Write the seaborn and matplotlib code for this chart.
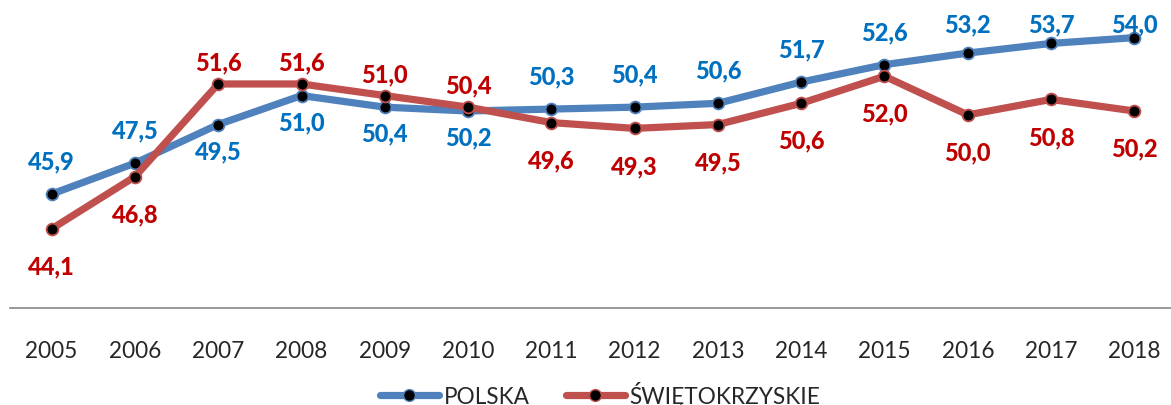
import pandas as pd
import numpy as np
import matplotlib.pyplot as plt
import seaborn as sns
from matplotlib.lines import Line2D
from matplotlib.ticker import FixedLocator
from matplotlib import font_manager
import matplotlib.patheffects as pe

# dane
lata = ['2005', '2006', '2007', '2008', '2009', '2010', '2011',
        '2012', '2013', '2014', '2015', '2016', '2017', '2018']
polska = [45.9, 47.5, 49.5, 51.0, 50.4, 50.2, 50.3, 50.4, 50.6, 51.7, 52.6, 53.2, 53.7, 54.0]
swietokrzyskie = [44.1, 46.8, 51.6, 51.6, 51.0, 50.4, 49.6, 49.3, 49.5, 50.6, 52.0, 50.0, 50.8, 50.2]

# gdzie etykiety: 1 = nad punktem, -1 = pod punktem
pol_strona = [1, 1, -1, -1, -1, -1, 1, 1, 1, 1, 1, 1, 1, 1]
swi_strona = [-1, -1, 1, 1, 1, 1, -1, -1, -1, -1, -1, -1, -1, -1]

sns.set_style('white')
plt.rcParams['font.family'] = ['Lato', 'DejaVu Sans']

# szukamy pliku z pogrubionym Lato
bold_pliki = [f.fname for f in font_manager.fontManager.ttflist
              if f.name == 'Lato' and str(f.weight) in ('bold', '700', '800', '900', 'heavy', 'black')
              and f.style == 'normal']
if bold_pliki:
    font_etyk = dict(fontproperties=font_manager.FontProperties(fname=bold_pliki[0], size=17))
    efekt = []
else:
    font_etyk = dict(fontsize=17, fontweight='bold')
    efekt = None  # ustawiane przy kolorze

NIEB_LINIA, NIEB_TEKST = '#4F81BD', '#0070C0'
CZER_LINIA, CZER_TEKST = '#C0504D', '#C00000'

YMIN, YMAX = 40, 56
AX_H = 309  # wysokosc osi w px

df = pd.DataFrame({'x': np.arange(len(lata)), 'POLSKA': polska, 'ŚWIĘTOKRZYSKIE': swietokrzyskie})

fig = plt.figure(figsize=(11.71, 4.06), dpi=100)
ax = fig.add_axes([10 / 1171, 97 / 406, 1166 / 1171, AX_H / 406])

styl = dict(marker='o', markersize=8.5, markerfacecolor='black', markeredgewidth=1.3,
            linewidth=5.2, legend=False)
sns.lineplot(data=df, x='x', y='POLSKA', color=NIEB_LINIA, markeredgecolor=NIEB_LINIA, ax=ax, **styl)
sns.lineplot(data=df, x='x', y='ŚWIĘTOKRZYSKIE', color=CZER_LINIA, markeredgecolor=CZER_LINIA, ax=ax, **styl)

# etykiety danych
def etykiety(wartosci, strony, kolor, nad, pod):
    pe_lista = efekt if efekt is not None else [pe.withStroke(linewidth=1.1, foreground=kolor)]
    for i, (v, s) in enumerate(zip(wartosci, strony)):
        if s > 0:
            # nie wychodzimy poza gorna krawedz
            do_gory = (YMAX - v) * AX_H / (YMAX - YMIN)
            off = min(nad, do_gory - 25)
        else:
            off = -pod
        ax.annotate(f'{v:.1f}'.replace('.', ','), (i, v), xytext=(0, off * 0.72),
                    textcoords='offset points', ha='center', va='center',
                    color=kolor, path_effects=pe_lista, **font_etyk)

etykiety(polska, pol_strona, NIEB_TEKST, 33, 26)
etykiety(swietokrzyskie, swi_strona, CZER_TEKST, 22, 37)

ax.set_xlim(-0.5, len(lata) - 0.5)
ax.set_ylim(YMIN, YMAX)
ax.set_yticks([])
ax.set_xticks(range(len(lata)))
ax.set_xticklabels(lata, fontsize=16.3)
ax.xaxis.set_minor_locator(FixedLocator(np.arange(-0.5, len(lata), 1)))
ax.tick_params(axis='x', which='major', length=0, pad=23)
ax.tick_params(axis='x', which='minor', length=8, width=1.2, color='#868686', direction='out')
ax.set_xlabel('')
ax.set_ylabel('')
sns.despine(ax=ax, left=True, top=True, right=True)
ax.spines['bottom'].set_color('#868686')
ax.spines['bottom'].set_linewidth(1.2)

uchwyty = [
    Line2D([], [], color=NIEB_LINIA, lw=5.2, marker='o', markersize=8.5,
           markerfacecolor='black', markeredgecolor=NIEB_LINIA, label='POLSKA'),
    Line2D([], [], color=CZER_LINIA, lw=5.2, marker='o', markersize=8.5,
           markerfacecolor='black', markeredgecolor=CZER_LINIA, label='ŚWIĘTOKRZYSKIE'),
]
fig.legend(handles=uchwyty, loc='center', bbox_to_anchor=(600 / 1171, 1 - 395 / 406),
           ncol=2, frameon=False, fontsize=16.3, handlelength=2.6, handletextpad=0.2,
           columnspacing=1.6)

fig.savefig('out.png', dpi=100)
